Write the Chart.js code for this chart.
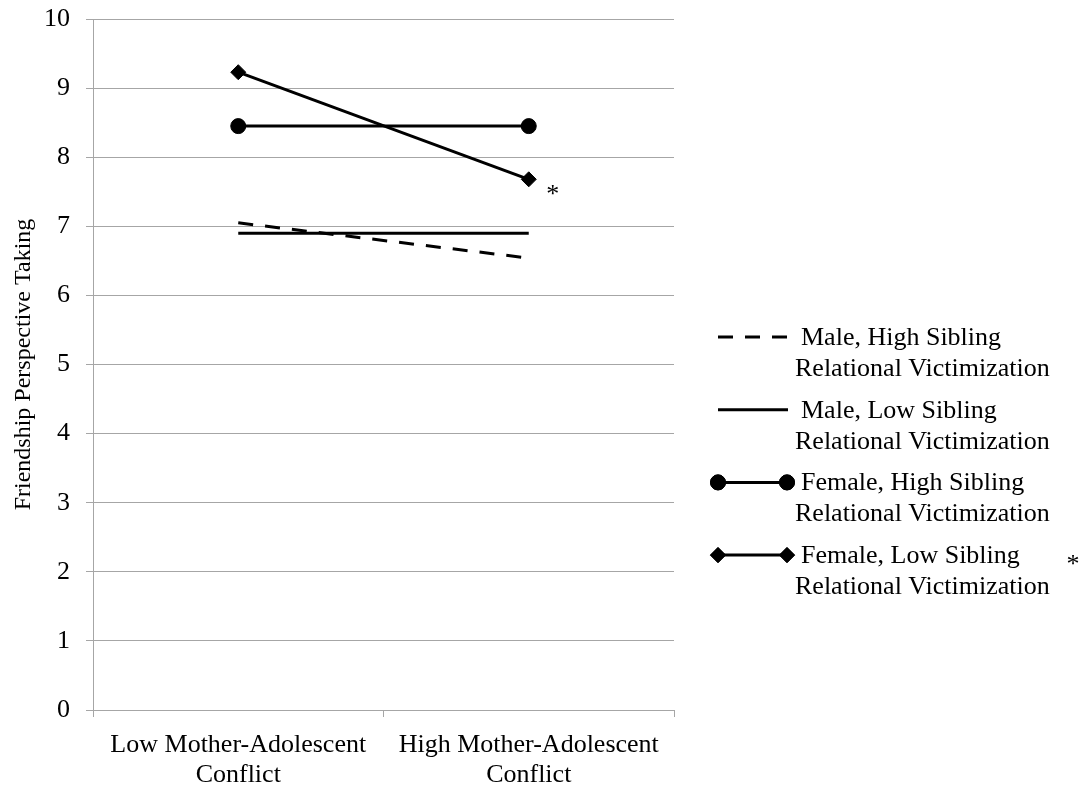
<!DOCTYPE html>
<html><head><meta charset="utf-8">
<script src="https://cdn.jsdelivr.net/npm/chart.js@4.4.0/dist/chart.umd.min.js"></script>
<style>html,body{margin:0;padding:0;background:#fff}</style>
</head><body>
<canvas id="c" width="1081" height="787" style="display:block;width:1081px;height:787px"></canvas>
<script>
const categories = [["Low Mother-Adolescent", "Conflict"], ["High Mother-Adolescent", "Conflict"]];
const maleHigh = [7.05, 6.54];
const maleLow = [6.90, 6.90];
const femaleHigh = [8.45, 8.45];
const femaleLow = [9.23, 7.68];
const seriesLabels = [
  ["Male, High Sibling", "Relational Victimization"],
  ["Male, Low Sibling", "Relational Victimization"],
  ["Female, High Sibling", "Relational Victimization"],
  ["Female, Low Sibling", "Relational Victimization"]
];
const yMin = 0, yMax = 10, yStep = 1;
const yTitle = "Friendship Perspective Taking";
const sigMark = "*";

const FONT = "'Liberation Serif', 'Times New Roman', serif";
const GRID = '#a6a6a6';

const legendPlugin = {
  id: 'sideLegend',
  afterDraw(chart) {
    const ctx = chart.ctx;
    const ds = chart.data.datasets;
    ctx.save();
    ctx.font = '26px ' + FONT;
    ctx.fillStyle = '#000';
    ctx.textBaseline = 'middle';
    ctx.textAlign = 'left';
    const x0 = 718, x1 = 788;
    for (let i = 0; i < ds.length; i++) {
      const d = ds[i];
      const y = 337 + i * 72.7;
      ctx.save();
      ctx.strokeStyle = d.borderColor;
      ctx.lineWidth = d.borderWidth;
      ctx.setLineDash(d.borderDash || []);
      ctx.beginPath(); ctx.moveTo(x0, y); ctx.lineTo(x1, y); ctx.stroke();
      ctx.restore();
      if (d.pointRadius > 0) {
        [x0, x1 - 1].forEach(px => {
          Chart.helpers.drawPoint(ctx, {pointStyle: d.pointStyle, radius: d.pointRadius, rotation: 0, borderWidth: 1}, px, y);
          ctx.fillStyle = '#000'; ctx.strokeStyle = '#000';
          ctx.fill(); ctx.stroke();
        });
      }
      ctx.fillStyle = '#000';
      ctx.fillText(seriesLabels[i][0], 801, y + 1);
      ctx.fillText(seriesLabels[i][1], 795, y + 32);
    }
    // significance marks
    ctx.font = '26px ' + FONT;
    ctx.textAlign = 'center';
    const meta = chart.getDatasetMeta(3);
    const p = meta.data[1];
    ctx.fillText(sigMark, p.x + 24, p.y + 16);
    ctx.fillText(sigMark, 1073, 337 + 3 * 72.7 + 10);
    ctx.restore();
  }
};

new Chart(document.getElementById('c'), {
  type: 'line',
  data: {
    labels: categories,
    datasets: [
      {label: seriesLabels[0].join(' '), data: maleHigh, borderColor: '#000', backgroundColor: '#000', borderWidth: 3, borderDash: [15, 12], pointRadius: 0, pointStyle: 'circle'},
      {label: seriesLabels[1].join(' '), data: maleLow, borderColor: '#000', backgroundColor: '#000', borderWidth: 3, pointRadius: 0, pointStyle: 'circle'},
      {label: seriesLabels[2].join(' '), data: femaleHigh, borderColor: '#000', backgroundColor: '#000', borderWidth: 3, pointRadius: 7.5, pointStyle: 'circle', pointBorderWidth: 1},
      {label: seriesLabels[3].join(' '), data: femaleLow, borderColor: '#000', backgroundColor: '#000', borderWidth: 3, pointRadius: 7.5, pointStyle: 'rectRot', pointBorderWidth: 1}
    ]
  },
  options: {
    responsive: false,
    animation: false,
    events: [],
    layout: {padding: {top: 19, right: 407, left: 0, bottom: 0}},
    plugins: {legend: {display: false}, tooltip: {enabled: false}, title: {display: false}},
    elements: {line: {tension: 0, borderCapStyle: 'butt'}},
    scales: {
      x: {
        type: 'category',
        offset: true,
        grid: {offset: true, drawOnChartArea: false, drawTicks: true, tickLength: 7, color: GRID, lineWidth: 1},
        border: {color: GRID, width: 1},
        ticks: {color: '#000', font: {family: FONT, size: 26, lineHeight: 1.15}, padding: 13, maxRotation: 0, minRotation: 0, autoSkip: false},
        afterFit(scale) { scale.height = 77; scale.paddingLeft = 0; scale.paddingRight = 0; }
      },
      y: {
        min: yMin, max: yMax,
        grid: {color: GRID, lineWidth: 1, tickLength: 7, drawTicks: true},
        border: {color: GRID, width: 1},
        ticks: {stepSize: yStep, color: '#000', font: {family: FONT, size: 26}, padding: 16},
        title: {display: true, text: yTitle, color: '#000', font: {family: FONT, size: 24}, padding: {top: 9, bottom: 0}},
        afterFit(scale) { scale.width = 93; scale.paddingTop = 0; scale.paddingBottom = 0; }
      }
    }
  },
  plugins: [legendPlugin]
});
</script>
</body></html>
